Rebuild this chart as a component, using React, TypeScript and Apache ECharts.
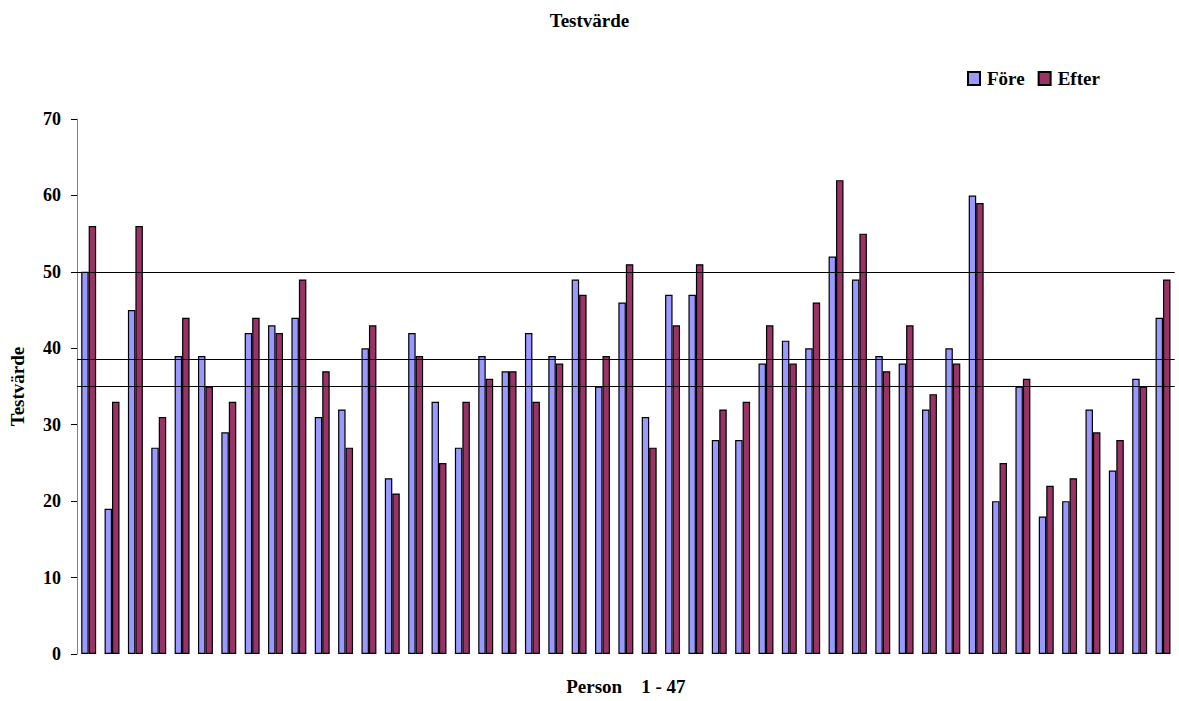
import React, { useEffect, useRef } from "react";
import * as echarts from "echarts";

// Person 1 - 47
const persons = [
  "1", "2", "3", "4", "5", "6", "7", "8", "9", "10",
  "11", "12", "13", "14", "15", "16", "17", "18", "19", "20",
  "21", "22", "23", "24", "25", "26", "27", "28", "29", "30",
  "31", "32", "33", "34", "35", "36", "37", "38", "39", "40",
  "41", "42", "43", "44", "45", "46", "47",
];

// Test score before
const fore = [
  50, 19, 45, 27, 39, 39, 29, 42, 43, 44,
  31, 32, 40, 23, 42, 33, 27, 39, 37, 42,
  39, 49, 35, 46, 31, 47, 47, 28, 28, 38,
  41, 40, 52, 49, 39, 38, 32, 40, 60, 20,
  35, 18, 20, 32, 24, 36, 44,
];

// Test score after
const efter = [
  56, 33, 56, 31, 44, 35, 33, 44, 42, 49,
  37, 27, 43, 21, 39, 25, 33, 36, 37, 33,
  38, 47, 39, 51, 27, 43, 51, 32, 33, 43,
  38, 46, 62, 55, 37, 43, 34, 38, 59, 25,
  36, 22, 23, 29, 28, 35, 49,
];

// Horizontal reference levels
const referenceLevels = [50, 38.6, 35];

const yTicks = { min: 0, max: 70, interval: 10 };

const FONT = "'Liberation Serif', 'Times New Roman', serif";

export default function App() {
  const ref = useRef<HTMLDivElement>(null);

  useEffect(() => {
    if (!ref.current) return;
    const chart = echarts.init(ref.current, undefined, { renderer: "svg" });
    chart.setOption({
      animation: false,
      backgroundColor: "#ffffff",
      textStyle: { fontFamily: FONT },
      title: {
        text: "Testvärde",
        left: "center",
        top: 6,
        textStyle: { fontFamily: FONT, fontSize: 19, fontWeight: "bold", color: "#000" },
      },
      legend: {
        left: 962,
        top: 64,
        itemWidth: 12,
        itemHeight: 13,
        itemGap: 13,
        icon: "rect",
        textStyle: { fontFamily: FONT, fontSize: 19, fontWeight: "bold", color: "#000", padding: [0, 0, 0, 2] },
        data: ["Före", "Efter"],
      },
      grid: { left: 73.5, right: 4.3, top: 119, bottom: 41, containLabel: false },
      xAxis: {
        type: "category",
        data: persons,
        name: "Person    1 - 47",
        nameLocation: "middle",
        nameGap: 23,
        nameTextStyle: { fontFamily: FONT, fontSize: 19, fontWeight: "bold", color: "#000" },
        axisLine: { show: false },
        axisTick: { show: false },
        axisLabel: { show: false },
        splitLine: { show: false },
      },
      yAxis: {
        type: "value",
        min: yTicks.min,
        max: yTicks.max,
        interval: yTicks.interval,
        name: "Testvärde",
        nameLocation: "middle",
        nameGap: 50,
        nameTextStyle: { fontFamily: FONT, fontSize: 19, fontWeight: "bold", color: "#000" },
        axisLine: { show: true, lineStyle: { color: "#808080", width: 1 } },
        axisTick: { show: true, length: 6, lineStyle: { color: "#000", width: 1 } },
        axisLabel: { margin: 16, fontFamily: FONT, fontSize: 18, fontWeight: "bold", color: "#000" },
        splitLine: { show: false },
      },
      series: [
        {
          name: "Före",
          type: "bar",
          data: fore,
          barGap: "0%",
          barCategoryGap: "36%",
          itemStyle: { color: "#9999FF", borderColor: "#000", borderWidth: 1.2 },
        },
        {
          name: "Efter",
          type: "bar",
          data: efter,
          barGap: "0%",
          barCategoryGap: "36%",
          itemStyle: { color: "#993366", borderColor: "#000", borderWidth: 1.2 },
          markLine: {
            silent: true,
            symbol: ["none", "none"],
            label: { show: false },
            lineStyle: { color: "#000", width: 1, type: "solid" },
            data: referenceLevels.map((v) => ({ yAxis: v })),
          },
        },
      ],
    });
    return () => chart.dispose();
  }, []);

  return (
    <div
      ref={ref}
      style={{ position: "fixed", left: 0, top: 0, width: 1179, height: 701, background: "#fff" }}
    />
  );
}
